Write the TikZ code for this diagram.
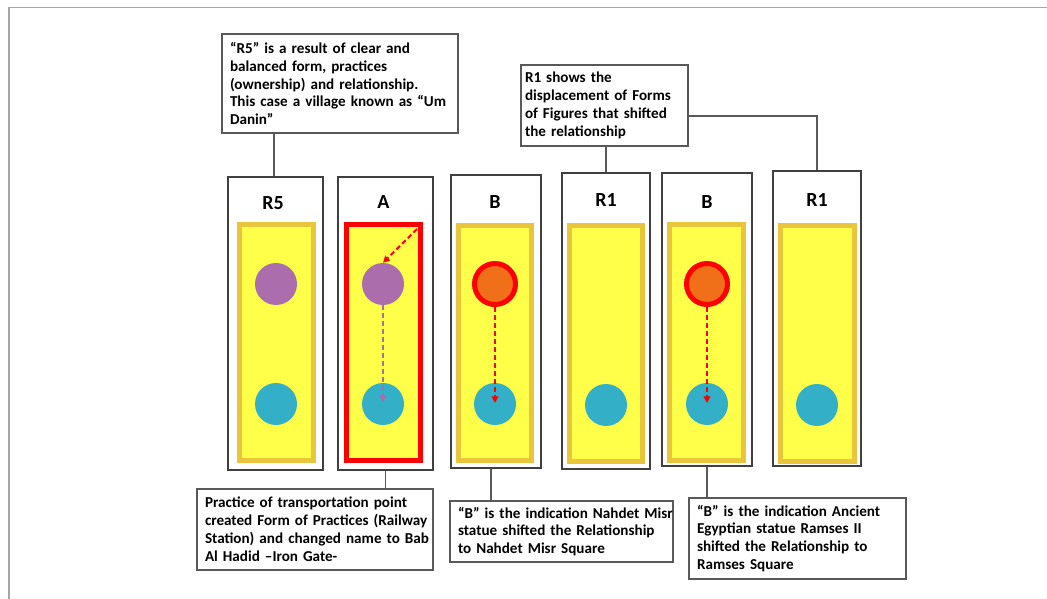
\documentclass[tikz,border=0pt]{standalone}
\usepackage{fontspec}
\setmainfont{Carlito}
\usetikzlibrary{arrows.meta}
\definecolor{ylw}{HTML}{FFFF4A}
\definecolor{gold}{HTML}{E9C53C}
\definecolor{purp}{HTML}{AC6DAD}
\definecolor{cyn}{HTML}{33AFC8}
\definecolor{orng}{HTML}{F07019}
\definecolor{redd}{HTML}{FF0000}
\definecolor{pborder}{HTML}{404040}
\definecolor{tborder}{HTML}{595959}
\definecolor{frame}{HTML}{A6A6A6}
\tikzset{
  panel/.style={draw=pborder, line width=0.9pt, fill=white, inner sep=0pt},
  lbl/.style={font=\fontsize{15}{17}\selectfont\bfseries, inner sep=0pt},
  tbox/.style={draw=tborder, line width=0.9pt, fill=white, align=left,
    font=\fontsize{11.35}{13.4}\selectfont\bfseries, inner ysep=0pt},
  ybox/.style={fill=ylw, draw=gold, line width=3.75pt},
  rbox/.style={fill=ylw, draw=redd, line width=3.75pt},
  dot/.style={circle, minimum size=31.5pt, inner sep=0pt},
  pdot/.style={dot, fill=purp},
  cdot/.style={dot, fill=cyn},
  odot/.style={circle, minimum size=30.75pt, inner sep=0pt, fill=orng, draw=redd, line width=3.75pt},
  conn/.style={draw=tborder, line width=0.9pt},
  darr/.style={dashed, dash pattern=on 3.75pt off 2.25pt, line width=1.5pt,
    -{Triangle[length=5pt,width=5pt]}},
}
\begin{document}
\begin{tikzpicture}[x=0.75pt,y=-0.75pt]
\useasboundingbox (0,0) rectangle (1047,599);
\fill[white] (0,0) rectangle (1047,599);
% frame lines
\coordinate (ftl) at (9,7.5);
\coordinate (ftr) at (1047,7.5);
\coordinate (fbl) at (9,599);
\draw[frame, line width=1.1pt] (ftr) -- (ftl) -- (fbl);

% panels
\node[panel, minimum width={95*0.75pt}, minimum height={293*0.75pt}] (r5) at (275.5,323.5) {};
\node[panel, minimum width={95*0.75pt}, minimum height={293*0.75pt}] (pa) at (385.5,323.5) {};
\node[panel, minimum width={90*0.75pt}, minimum height={293*0.75pt}] (b1) at (496,321.5) {};
\node[panel, minimum width={88*0.75pt}, minimum height={296*0.75pt}] (r1a) at (606,321) {};
\node[panel, minimum width={90*0.75pt}, minimum height={293*0.75pt}] (b2) at (707,319.5) {};
\node[panel, minimum width={88*0.75pt}, minimum height={295*0.75pt}] (r1b) at (817,318.5) {};

% labels
\node[lbl] (r5l) at (273,203) {R5};
\node[lbl] (pal) at (383.5,202) {A};
\node[lbl] (b1l) at (495,202) {B};
\node[lbl] (r1al) at (606,200) {R1};
\node[lbl] (b2l) at (707,202) {B};
\node[lbl] (r1bl) at (817,200) {R1};

% inner boxes
\draw[ybox] (239.5,224.5) rectangle (313.5,460.5);
\draw[rbox] (346.5,224.5) rectangle (420.5,460.5);
\draw[ybox] (458.5,225.5) rectangle (531.5,460.5);
\draw[ybox] (569.5,225.5) rectangle (642.5,461.5);
\draw[ybox] (669.5,224.5) rectangle (743.5,460.5);
\draw[ybox] (780.5,225.5) rectangle (854.5,461.5);

% dots
\node[pdot] (r5p) at (276,284) {};
\node[cdot] (r5c) at (276,404) {};
\node[pdot] (pap) at (383,284) {};
\node[cdot] (pac) at (383,404) {};
\node[odot] (b1o) at (495,284) {};
\node[cdot] (b1c) at (495,404) {};
\node[cdot] (r1ac) at (606,405) {};
\node[odot] (b2o) at (707,284) {};
\node[cdot] (b2c) at (707,404) {};
\node[cdot] (r1bc) at (817,405) {};

% arrows
\coordinate (acorner) at (417,229);
\draw[darr, redd] (acorner) -- (pap.north);
\draw[darr, purp] (pap.south) -- ([yshift=1.5pt]pac.center);
\draw[darr, redd] (b1o.south) -- ([yshift=0.75pt]b1c.center);
\draw[darr, redd] (b2o.south) -- ([yshift=0.75pt]b2c.center);

% text boxes
\node[tbox, text width={220*0.75pt}, inner xsep=6pt, minimum height={99*0.75pt}] (t1) at (340,83.5)
  {\mbox{“R5” is a result of clear and}\\\mbox{balanced form, practices}\\\mbox{(ownership) and relationship.}\\\mbox{This case a village known as “Um}\\\mbox{Danin”}};
\node[tbox, text width={159*0.75pt}, inner xsep=3pt, minimum height={81*0.75pt}] (t2) at (604.5,105.5)
  {\mbox{R1 shows the}\\\mbox{displacement of Forms}\\\mbox{of Figures that shifted}\\\mbox{the relationship}};
\node[tbox, text width={220*0.75pt}, inner xsep=6pt, minimum height={81*0.75pt}] (bl) at (315,529.5)
  {\mbox{Practice of transportation point}\\\mbox{created Form of Practices (Railway}\\\mbox{Station) and changed name to Bab}\\\mbox{Al Hadid –Iron Gate-}};
\node[tbox, text width={207*0.75pt}, inner xsep=6pt, minimum height={61*0.75pt}] (bm) at (561.5,531.5)
  {\mbox{“B” is the indication Nahdet Misr}\\\mbox{statue shifted the Relationship}\\\mbox{to Nahdet Misr Square}};
\node[tbox, text width={201*0.75pt}, inner xsep=6pt, minimum height={81*0.75pt}] (br) at (797.5,538.5)
  {\mbox{“B” is the indication Ancient}\\\mbox{Egyptian statue Ramses II}\\\mbox{shifted the Relationship to}\\\mbox{Ramses Square}};

% connectors
\draw[conn] (t1.south -| 274,0) -- (r5.north -| 274,0);
\draw[conn] (t2.south -| r1a.north) -- (r1a.north);
\draw[conn] ([yshift=-7.875pt]t2.east) -| (r1b.north);
\draw[conn] (pa.south) -- (pa.south |- bl.north);
\draw[conn] ([xshift=-3.75pt]b1.south) -- ([xshift=-3.75pt]b1.south |- bm.north);
\draw[conn] (b2.south) -- (b2.south |- br.north);
\end{tikzpicture}
\end{document}
